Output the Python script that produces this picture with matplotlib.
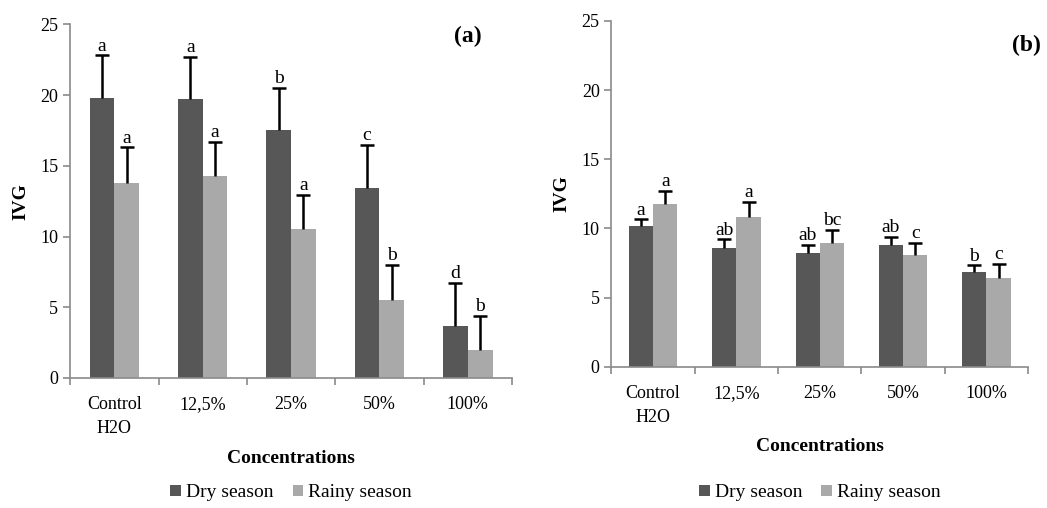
import numpy as np
import matplotlib
matplotlib.use("Agg")
import matplotlib.pyplot as plt

plt.rcParams['font.family'] = ['Liberation Serif', 'DejaVu Serif']

# data
categories = ["Control\nH2O", "12,5%", "25%", "50%", "100%"]

dry_a = [19.8, 19.7, 17.5, 13.4, 3.7]
dry_a_err = [3.0, 3.0, 3.0, 3.1, 3.0]
rainy_a = [13.8, 14.3, 10.5, 5.5, 2.0]
rainy_a_err = [2.5, 2.4, 2.45, 2.5, 2.4]
dry_a_letters = ["a", "a", "b", "c", "d"]
rainy_a_letters = ["a", "a", "a", "b", "b"]

dry_b = [10.15, 8.6, 8.25, 8.8, 6.85]
dry_b_err = [0.5, 0.6, 0.55, 0.58, 0.48]
rainy_b = [11.75, 10.85, 8.95, 8.05, 6.4]
rainy_b_err = [0.95, 1.05, 0.95, 0.92, 1.05]
dry_b_letters = ["a", "ab", "ab", "ab", "b"]
rainy_b_letters = ["a", "a", "bc", "c", "c"]

DARK = "#575757"
LIGHT = "#a9a9a9"
SPINE = "#8a8a8a"


def upper_err(ax, xs, ys, err):
    # only the top cap is drawn, like the spreadsheet style
    _, caps, _ = ax.errorbar(xs, ys, yerr=[np.zeros(len(ys)), err], fmt="none",
                             ecolor="black", elinewidth=1.8, capsize=5, capthick=1.8)
    caps[0].set_visible(False)


def panel(ax, dry, dry_err, rainy, rainy_err, dry_lab, rainy_lab, tag, width, tag_xy):
    x = np.arange(len(categories))
    b1 = ax.bar(x - width / 2, dry, width, color=DARK, label="Dry season")
    b2 = ax.bar(x + width / 2, rainy, width, color=LIGHT, label="Rainy season")
    upper_err(ax, x - width / 2, dry, dry_err)
    upper_err(ax, x + width / 2, rainy, rainy_err)
    for i in range(len(x)):
        ax.text(x[i] - width / 2, dry[i] + dry_err[i] + 0.05, dry_lab[i],
                ha="center", va="bottom", fontsize=14)
        ax.text(x[i] + width / 2, rainy[i] + rainy_err[i] + 0.05, rainy_lab[i],
                ha="center", va="bottom", fontsize=14)

    ax.set_xlim(-0.5, len(x) - 0.5)
    ax.set_ylim(0, 25)
    ax.set_yticks(range(0, 26, 5))
    ax.set_xticks(x)
    ax.set_xticklabels(categories, fontsize=13, linespacing=1.55)
    ax.set_xticks(np.arange(-0.5, len(x), 1), minor=True)
    ax.tick_params(axis="x", which="major", length=0, pad=13)
    ax.tick_params(axis="x", which="minor", length=5, color=SPINE, width=1.2)
    ax.tick_params(axis="y", labelsize=13, length=5, color=SPINE, width=1.2)
    for s in ["top", "right"]:
        ax.spines[s].set_visible(False)
    for s in ["left", "bottom"]:
        ax.spines[s].set_color(SPINE)
        ax.spines[s].set_linewidth(1.2)
    ax.set_ylabel("IVG", fontsize=14, fontweight="bold", labelpad=8)
    ax.set_xlabel("Concentrations", fontsize=14, fontweight="bold", labelpad=9)
    ax.text(tag_xy[0], tag_xy[1], tag, transform=ax.transAxes, fontsize=17,
            fontweight="bold", ha="center", va="center")
    pos = ax.get_position()
    ax.legend(handles=[b1, b2], loc="center",
              bbox_to_anchor=((pos.x0 + pos.x1) / 2, 0.03),
              bbox_transform=fig.transFigure, ncol=2, frameon=False, fontsize=14,
              handlelength=0.55, handleheight=0.55, handletextpad=0.25,
              columnspacing=1.0, borderaxespad=0)


fig = plt.figure(figsize=(10.47, 5.08), dpi=100)
ax1 = fig.add_axes([0.067, 0.256, 0.422, 0.696])
ax2 = fig.add_axes([0.584, 0.278, 0.398, 0.681])

panel(ax1, dry_a, dry_a_err, rainy_a, rainy_a_err, dry_a_letters, rainy_a_letters,
      "(a)", 0.28, (0.90, 0.965))
panel(ax2, dry_b, dry_b_err, rainy_b, rainy_b_err, dry_b_letters, rainy_b_letters,
      "(b)", 0.29, (0.995, 0.93))

fig.savefig("out.png", dpi=100)
